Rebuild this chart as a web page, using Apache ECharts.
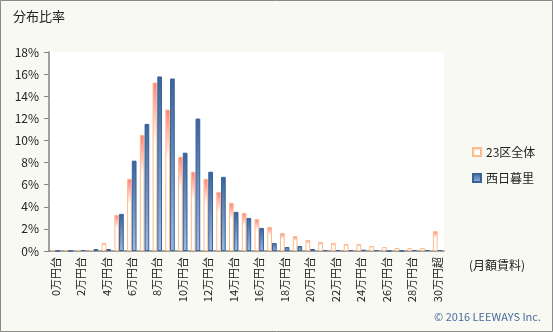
<!DOCTYPE html>
<html><head><meta charset="utf-8">
<script src="https://cdn.jsdelivr.net/npm/echarts@6/dist/echarts.min.js"></script>
<style>html,body{margin:0;padding:0;background:#f7f9f2}#c{width:553px;height:332px}</style>
</head><body><div id="c"></div>
<script>
const categories = ['0万円台','1万円台','2万円台','3万円台','4万円台','5万円台','6万円台','7万円台','8万円台','9万円台','10万円台','11万円台','12万円台','13万円台','14万円台','15万円台','16万円台','17万円台','18万円台','19万円台','20万円台','21万円台','22万円台','23万円台','24万円台','25万円台','26万円台','27万円台','28万円台','29万円台','30万円超'];
const ward23 = [0.09,0.09,0.09,0.09,0.73,3.27,6.53,10.5,15.24,12.8,8.53,7.17,6.53,5.35,4.36,3.45,2.9,2.18,1.63,1.36,1.0,0.82,0.73,0.64,0.64,0.45,0.36,0.27,0.27,0.27,1.81];
const nishinippori = [0,0,0.09,0.18,0.18,3.36,8.17,11.5,15.79,15.6,8.89,11.98,7.17,6.71,3.54,2.99,2.09,0.73,0.36,0.45,0.18,0.09,0.09,0.09,0.12,0.09,0,0,0.09,0.09,0.09];
const yTicks = {min:0, max:18, interval:2};

const font = '"Noto Sans CJK JP", sans-serif';
const chart = echarts.init(document.getElementById('c'), null, {renderer:'canvas'});
chart.setOption({
  backgroundColor:'#f7f9f2',
  animation:false,
  textStyle:{fontFamily:font},
  grid:{left:49, right:109, top:52, bottom:81, show:true, backgroundColor:'#ffffff', borderWidth:0},
  legend:{
    orient:'vertical', left:467, top:141, itemWidth:8, itemHeight:8, itemGap:14,
    icon:'rect',
    textStyle:{fontFamily:font, fontSize:12, color:'#222'},
    data:['23区全体','西日暮里']
  },
  xAxis:{
    type:'category', data:categories,
    axisLine:{lineStyle:{color:'#858585', width:1.5}},
    axisTick:{interval:1, length:4, lineStyle:{color:'#858585'}},
    axisLabel:{interval:1, rotate:90, fontSize:11, color:'#222', fontFamily:font, margin:6}
  },
  yAxis:{
    type:'value', min:yTicks.min, max:yTicks.max, interval:yTicks.interval,
    axisLine:{show:true, lineStyle:{color:'#858585', width:1.5}},
    axisTick:{show:true, length:5, lineStyle:{color:'#858585'}},
    splitLine:{show:false},
    axisLabel:{formatter:'{value}%', fontSize:12, color:'#222', fontFamily:font, margin:10}
  },
  series:[
    {name:'23区全体', type:'bar', data:ward23, barGap:'0%', barCategoryGap:'26%',
     itemStyle:{borderColor:'#fbbd89', borderWidth:1,
       color:new echarts.graphic.LinearGradient(0,0,0,1,[{offset:0,color:'#ff7d7d'},{offset:0.35,color:'#ffffff'},{offset:1,color:'#ffffff'}])}},
    {name:'西日暮里', type:'bar', data:nishinippori, barGap:'0%', barCategoryGap:'26%',
     itemStyle:{borderColor:'#3a6198', borderWidth:1,
       color:new echarts.graphic.LinearGradient(0,0,0,1,[{offset:0,color:'#3a649e'},{offset:1,color:'#9cb9e2'}])}}
  ],
  graphic:[
    {type:'rect', shape:{x:0.5,y:0.5,width:552,height:331}, style:{fill:null, stroke:'#8a8a8a', lineWidth:1}, silent:true},
    {type:'text', left:13, top:10, style:{text:'分布比率', font:'13px '+font, fill:'#222'}},
    {type:'text', left:469, top:259, style:{text:'(月額賃料)', font:'12px '+font, fill:'#222'}},
    {type:'text', right:12, top:311, style:{text:'© 2016 LEEWAYS Inc.', font:'11px '+font, fill:'#4a6b9c'}}
  ]
});
</script></body></html>
